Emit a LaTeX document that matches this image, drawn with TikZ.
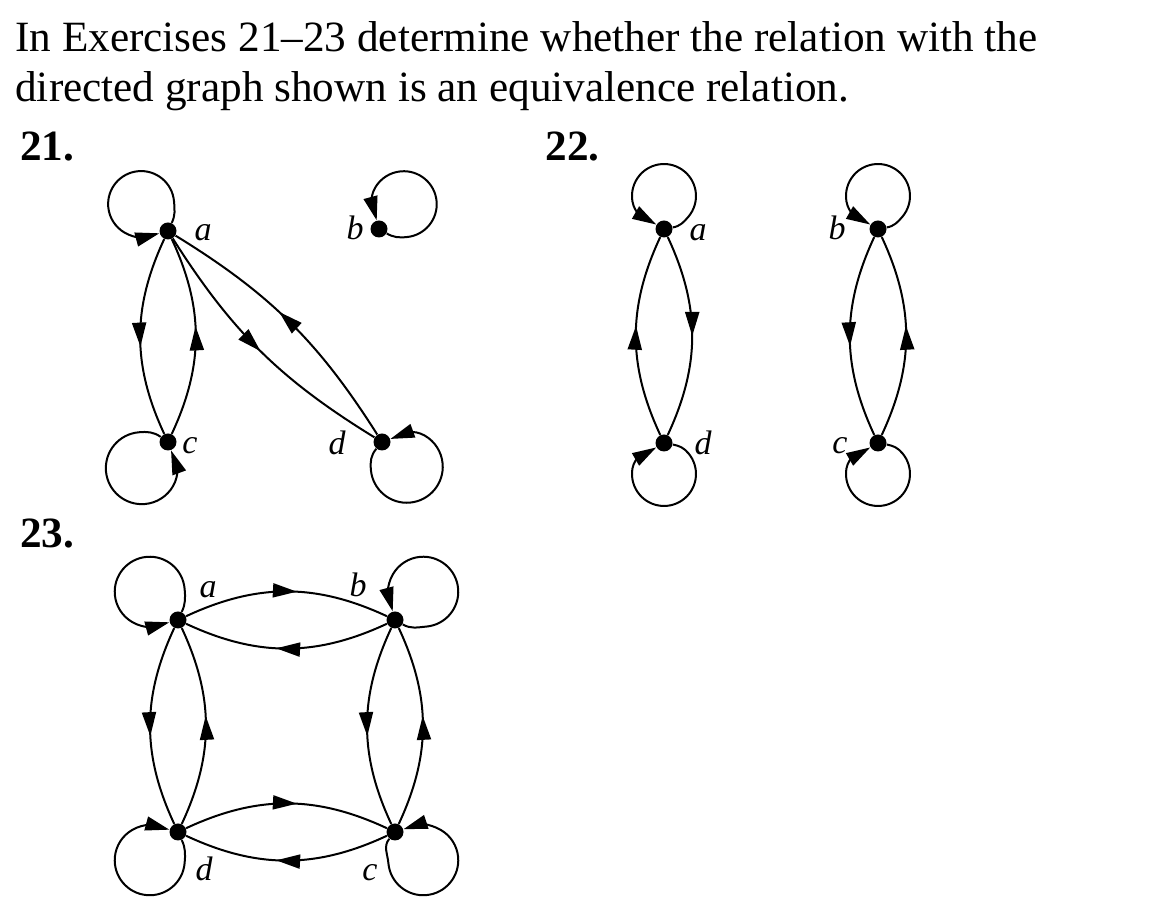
\documentclass[tikz,border=0pt]{standalone}
\usepackage{fontspec}
\setmainfont{Liberation Serif}
\usetikzlibrary{arrows.meta,decorations.markings}

\begin{document}
\begin{tikzpicture}[
  x=0.5pt, y=0.5pt,
  vertex/.style={circle, fill=black, inner sep=0pt, minimum size=8.5pt},
  lbl/.style={font=\fontsize{17}{17}\selectfont\itshape, inner sep=0pt},
  head/.style={font=\fontsize{21.6}{24}\selectfont\bfseries, anchor=base west, inner sep=0pt},
  body/.style={font=\fontsize{21.6}{24}\selectfont, anchor=base west, inner sep=0pt},
  link/.style={line width=1pt, postaction={decorate},
               decoration={markings, mark=at position #1 with {\arrow{Triangle[length=12pt,width=7pt]}}}},
  link/.default=0.55,
  selfloop/.style={line width=1pt, -{Triangle[length=12pt,width=7pt]}}
]
\useasboundingbox (0,0) rectangle (1164,910);

% question text
\node[body] (line1) at (15,858) {In Exercises 21--23 determine whether the relation with the};
\node[body] (line2) at (15,808) {directed graph shown is an equivalence relation.};
\node[head] (ex21) at (20,749) {21.};
\node[head] (ex22) at (545,749) {22.};
\node[head] (ex23) at (20,362) {23.};

% exercise 21
\node[vertex] (a1) at (168,679) {};
\node[vertex] (b1) at (379,681) {};
\node[vertex] (c1) at (168,468) {};
\node[vertex] (d1) at (382,468) {};
\node[lbl] (la1) at (203,677) {a};
\node[lbl] (lb1) at (355,682) {b};
\node[lbl] (lc1) at (190,464) {c};
\node[lbl] (ld1) at (337,467) {d};
\draw[selfloop] (a1) to[out=65,in=275] ++(6,29.8)
  arc[start angle=5,delta angle=235,radius=16.5pt] to[out=-30,in=195] (a1);
\draw[selfloop] (b1) to[out=-30,in=185] ++(27.6,-8.1)
  arc[start angle=-85,delta angle=235,radius=16.5pt] to[out=240,in=105] (b1);
\draw[selfloop] (c1) to[out=145,in=5] ++(-29.3,9.7)
  arc[start angle=95,delta angle=235,radius=18pt] to[out=60,in=-70] (c1);
\draw[selfloop] (d1) to[out=-130,in=95] ++(-11.1,-27.9)
  arc[start angle=-175,delta angle=235,radius=18pt] to[out=150,in=20] (d1);
\draw[link] (a1) to[bend right=25] (c1);
\draw[link] (c1) to[bend right=25] (a1);
\draw[link=0.5] (a1) to[bend right=13] (d1);
\draw[link] (d1) to[bend right=13] (a1);

% exercise 22
\node[vertex] (a2) at (664,681) {};
\node[vertex] (b2) at (878,681) {};
\node[vertex] (c2) at (878,467) {};
\node[vertex] (d2) at (664,467) {};
\node[lbl] (la2) at (698,677) {a};
\node[lbl] (lb2) at (837,682) {b};
\node[lbl] (lc2) at (840,464) {c};
\node[lbl] (ld2) at (703,467) {d};
\draw[selfloop] (a2) to[out=10,in=230] ++(24.5,12.4)
  arc[start angle=-40,delta angle=230,radius=16pt] to[out=-80,in=150] (a2);
\draw[selfloop] (b2) to[out=10,in=230] ++(24.5,12.4)
  arc[start angle=-40,delta angle=230,radius=16pt] to[out=-80,in=150] (b2);
\draw[selfloop] (c2) to[out=-10,in=130] ++(24.5,-10.4)
  arc[start angle=40,delta angle=-230,radius=16pt] to[out=80,in=-150] (c2);
\draw[selfloop] (d2) to[out=-10,in=130] ++(24.5,-10.4)
  arc[start angle=40,delta angle=-230,radius=16pt] to[out=80,in=-150] (d2);
\draw[link=0.5] (a2) to[bend left=25] (d2);
\draw[link] (d2) to[bend left=25] (a2);
\draw[link] (b2) to[bend right=25] (c2);
\draw[link] (c2) to[bend right=25] (b2);

% exercise 23
\node[vertex] (a3) at (178,290) {};
\node[vertex] (b3) at (395,290) {};
\node[vertex] (c3) at (395,78) {};
\node[vertex] (d3) at (178,78) {};
\node[lbl] (la3) at (208,320) {a};
\node[lbl] (lb3) at (358,325) {b};
\node[lbl] (lc3) at (370,37) {c};
\node[lbl] (ld3) at (204,41) {d};
\draw[selfloop] (a3) to[out=65,in=275] ++(6.6,31.3)
  arc[start angle=5,delta angle=235,radius=17.5pt] to[out=-30,in=195] (a3);
\draw[selfloop] (b3) to[out=-30,in=185] ++(31.3,-6.6)
  arc[start angle=-85,delta angle=235,radius=17.5pt] to[out=240,in=105] (b3);
\draw[selfloop] (c3) to[out=-130,in=95] ++(-6.6,-31.3)
  arc[start angle=-175,delta angle=235,radius=17.5pt] to[out=150,in=18] (c3);
\draw[selfloop] (d3) to[out=-65,in=85] ++(6.6,-31.3)
  arc[start angle=355,delta angle=-235,radius=17.5pt] to[out=30,in=165] (d3);
\draw[link] (a3) to[bend left=25] (b3);
\draw[link] (b3) to[bend left=25] (a3);
\draw[link] (d3) to[bend left=25] (c3);
\draw[link] (c3) to[bend left=25] (d3);
\draw[link] (a3) to[bend right=25] (d3);
\draw[link] (d3) to[bend right=25] (a3);
\draw[link] (b3) to[bend right=25] (c3);
\draw[link] (c3) to[bend right=25] (b3);
\end{tikzpicture}
\end{document}
